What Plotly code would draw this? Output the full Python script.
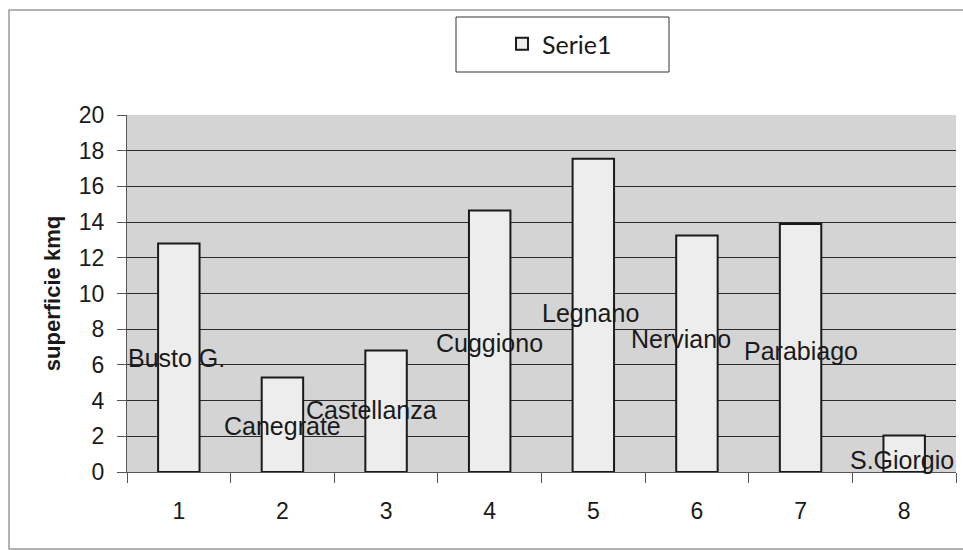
import plotly.graph_objects as go

categories = ["1", "2", "3", "4", "5", "6", "7", "8"]
values = [12.8, 5.3, 6.8, 14.65, 17.55, 13.25, 13.9, 2.05]
series_name = "Serie1"
point_labels = ["Busto G.", "Canegrate", "Castellanza", "Cuggiono",
                "Legnano", "Nerviano", "Parabiago", "S.Giorgio"]
label_x = [-0.02, 1.0, 1.86, 3.0, 3.97, 4.85, 6.0, 6.98]
label_y = [6.4, 2.6, 3.5, 7.2, 8.9, 7.45, 6.8, 0.65]
y_ticks = [0, 2, 4, 6, 8, 10, 12, 14, 16, 18, 20]

fig = go.Figure()
fig.add_trace(go.Bar(
    x=categories, y=values, name=series_name,
    marker=dict(color="#ededed", line=dict(color="#1a1a1a", width=2)),
    width=0.4, showlegend=True,
))

for lx, ly, txt in zip(label_x, label_y, point_labels):
    fig.add_annotation(x=lx, y=ly, xref="x", yref="y", text=txt,
                       showarrow=False, xanchor="center", yanchor="middle",
                       font=dict(family="Liberation Sans, Arial", size=25, color="#1a1a1a"))

W, H = 963, 550
L, R, T, B = 127, 7, 115, 78
pw, ph = W - L - R, H - T - B

def px_to_paper_x(px):
    return (px - L) / pw

def px_to_paper_y(py):
    return 1 - (py - T) / ph

# outer chart frame
fig.add_shape(type="rect", xref="paper", yref="paper",
              x0=px_to_paper_x(9), x1=px_to_paper_x(975),
              y0=px_to_paper_y(549), y1=px_to_paper_y(10),
              line=dict(color="#9a9a9a", width=1.5), fillcolor="rgba(0,0,0,0)",
              layer="below")
# legend box
fig.add_shape(type="rect", xref="paper", yref="paper",
              x0=px_to_paper_x(456), x1=px_to_paper_x(669),
              y0=px_to_paper_y(72), y1=px_to_paper_y(17),
              line=dict(color="#333", width=1), fillcolor="white",
              layer="below")

fig.update_layout(
    width=W, height=H,
    margin=dict(l=L, r=R, t=T, b=B, autoexpand=False),
    paper_bgcolor="white",
    plot_bgcolor="#d4d4d4",
    font=dict(family="Liberation Sans, Arial", color="#1a1a1a"),
    bargap=0.6,
    legend=dict(
        x=px_to_paper_x(502), y=px_to_paper_y(44),
        xanchor="left", yanchor="middle",
        borderwidth=0, bgcolor="rgba(0,0,0,0)",
        font=dict(family="Lato, DejaVu Sans", size=25, color="#1a1a1a"),
    ),
    showlegend=True,
)

fig.update_xaxes(
    type="category", tickson="boundaries",
    showgrid=False, showline=True, linecolor="#555", linewidth=1,
    ticks="outside", ticklen=10, tickcolor="#555",
    tickfont=dict(size=23), ticklabelstandoff=18, mirror=False,
    range=[-0.5, 7.5],
)
fig.update_yaxes(
    range=[0, 20], tickvals=y_ticks,
    showgrid=True, gridcolor="#2a2a2a", gridwidth=1,
    showline=True, linecolor="#555", linewidth=1,
    ticks="outside", ticklen=9, tickcolor="#555",
    tickfont=dict(size=23), ticklabelstandoff=8,
    title=dict(text="<b>superficie kmq</b>", font=dict(size=22), standoff=12),
    zeroline=False,
)

fig.write_html("out.html", config={"displayModeBar": False},
               post_script="document.body.style.margin='0';")
